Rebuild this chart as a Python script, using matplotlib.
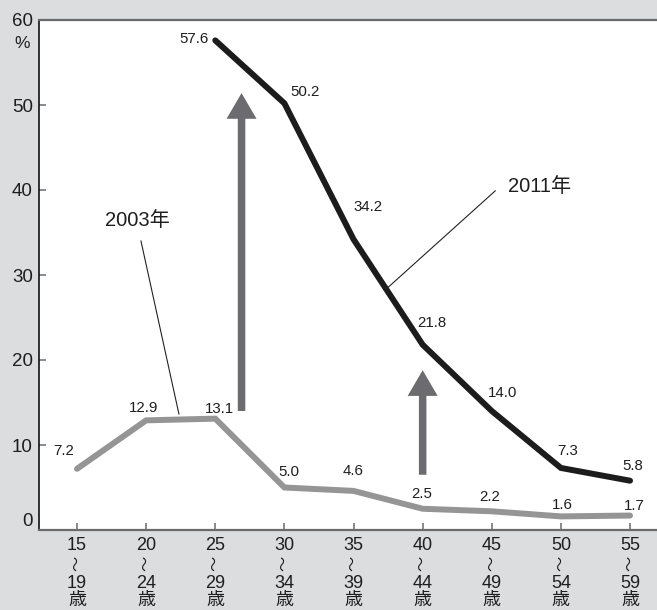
import matplotlib
matplotlib.use("Agg")
import matplotlib.pyplot as plt
import matplotlib.transforms as mtransforms
from matplotlib.patches import FancyArrowPatch

# ---- data ----
age_from = ["15", "20", "25", "30", "35", "40", "45", "50", "55"]
age_to = ["19", "24", "29", "34", "39", "44", "49", "54", "59"]
rate_2003 = [7.2, 12.9, 13.1, 5.0, 4.6, 2.5, 2.2, 1.6, 1.7]
rate_2011 = [None, None, 57.6, 50.2, 34.2, 21.8, 14.0, 7.3, 5.8]
y_ticks = [0, 10, 20, 30, 40, 50, 60]

# label offsets (pixels, right / up) for the value labels
off_2003 = [(-13, 18), (-3, 12), (4, 10), (4, 16), (0, 20), (-1, 15), (-2, 14), (1, 11), (4, 10)]
off_2011 = [None, None, (-21, 1), (21, 11), (15, 32), (9, 22), (11, 18), (7, 17), (3, 15)]

FONT = ["Liberation Sans", "Noto Sans CJK JP"]
BG = "#dcdddf"
GRAY_LINE = "#959595"
BLACK_LINE = "#1c1c1c"
ARROW = "#6c6c70"
SPINE_GRAY = "#6a6a6a"
TEXT = "#1e1e1e"

W, H, DPI = 657, 610, 100
fig = plt.figure(figsize=(W / DPI, H / DPI), dpi=DPI, facecolor=BG)
ax = fig.add_axes([39 / W, 1 - 530 / H, 1 - 39 / W, (530 - 20) / H])
ax.set_facecolor("white")

x = list(range(len(age_from)))
ax.set_xlim(-0.55, 8.39)
ax.set_ylim(0, 60)

# series lines
ax.plot(x, rate_2003, color=GRAY_LINE, lw=4.3, solid_capstyle="round",
        solid_joinstyle="miter", zorder=3)
x11 = [i for i, v in zip(x, rate_2011) if v is not None]
y11 = [v for v in rate_2011 if v is not None]
ax.plot(x11, y11, color=BLACK_LINE, lw=4.3, solid_capstyle="round",
        solid_joinstyle="miter", zorder=3)

# value labels
px2pt = 72 / DPI
for xi, v, (dx, dy) in zip(x, rate_2003, off_2003):
    ax.annotate(f"{v:.1f}", (xi, v), xytext=(dx * px2pt, dy * px2pt),
                textcoords="offset points", ha="center", va="center",
                fontsize=10.8, family=FONT, color=TEXT, zorder=5)
for xi, v, off in zip(x, rate_2011, off_2011):
    if v is None:
        continue
    dx, dy = off
    ax.annotate(f"{v:.1f}", (xi, v), xytext=(dx * px2pt, dy * px2pt),
                textcoords="offset points", ha="center", va="center",
                fontsize=10.8, family=FONT, color=TEXT, zorder=5)

# upward arrows
for (ax_x, y0, y1) in [(2.38, 14.0, 51.4), (5.0, 6.5, 18.8)]:
    arr = FancyArrowPatch((ax_x, y0), (ax_x, y1),
                          arrowstyle="simple,tail_width=5.4,head_width=21.6,head_length=18.5",
                          mutation_scale=1, shrinkA=0, shrinkB=0,
                          color=ARROW, lw=0, zorder=2)
    ax.add_patch(arr)

# series callouts
ax.plot([0.925, 1.474], [34.0, 13.65], color="#222222", lw=0.8, zorder=4)
ax.text(0.867, 36.36, "2003年", ha="center", va="center", fontsize=14.5,
        family=FONT, color=TEXT)
ax.plot([6.05, 4.48], [39.9, 28.4], color="#222222", lw=0.8, zorder=4)
ax.text(6.69, 40.47, "2011年", ha="center", va="center", fontsize=14.5,
        family=FONT, color=TEXT)

# spines
ax.spines["right"].set_visible(False)
ax.spines["left"].set_color("#111111")
ax.spines["left"].set_linewidth(1.2)
ax.spines["top"].set_color(SPINE_GRAY)
ax.spines["top"].set_linewidth(1.6)
ax.spines["bottom"].set_color(SPINE_GRAY)
ax.spines["bottom"].set_linewidth(1.6)

# y axis
ax.set_yticks(y_ticks)
ax.set_yticklabels([str(t) for t in y_ticks])
ax.tick_params(axis="y", direction="in", length=5, width=1.1, color=SPINE_GRAY,
               pad=4.5, labelsize=13.5, labelcolor=TEXT)
for lab in ax.get_yticklabels():
    lab.set_family(FONT)
    if lab.get_text() == "0":
        lab.set_verticalalignment("bottom")
fig.text(22 / W, 1 - 44 / H, "%", ha="center", va="center", fontsize=12.5,
         family=FONT, color=TEXT)

# x axis: stacked age-range labels
ax.set_xticks(x)
ax.set_xticklabels([])
ax.tick_params(axis="x", direction="in", length=5, width=1.1, color=SPINE_GRAY)
tr = mtransforms.blended_transform_factory(ax.transData, fig.transFigure)
for xi, a, b in zip(x, age_from, age_to):
    ax.text(xi, 1 - 545 / H, a, transform=tr, ha="center", va="center",
            fontsize=13, family=FONT, color=TEXT, clip_on=False)
    ax.text(xi, 1 - 563.5 / H, "〜", transform=tr, ha="center", va="center",
            rotation=90, fontsize=11, family=FONT, color=TEXT, clip_on=False)
    ax.text(xi, 1 - 583 / H, b, transform=tr, ha="center", va="center",
            fontsize=13, family=FONT, color=TEXT, clip_on=False)
    ax.text(xi, 1 - 601 / H, "歳", transform=tr, ha="center", va="center",
            fontsize=13, family=FONT, color=TEXT, clip_on=False)

fig.savefig("out.png", dpi=DPI, facecolor=BG)
